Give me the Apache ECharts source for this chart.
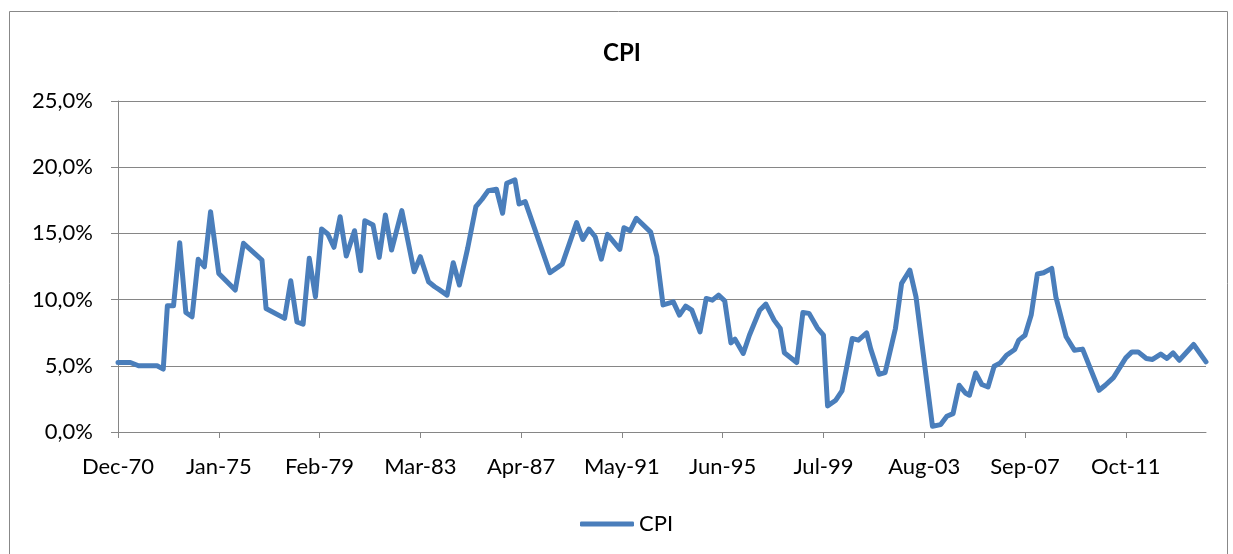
<!DOCTYPE html>
<html>
<head>
<meta charset="utf-8">
<title>CPI</title>
<script src="https://cdn.jsdelivr.net/npm/echarts@6/dist/echarts.min.js"></script>
<style>
  html, body { margin: 0; padding: 0; background: #fff; }
  #chart { width: 1233px; height: 554px; }
</style>
</head>
<body>
<div id="chart"></div>
<script>
// months counted from Dec-70 (roughly quarterly)
const months = [
  0, 6, 10, 19, 22, 24, 27, 30, 33, 36, 39, 42, 45, 49, 57, 61, 70, 72, 81, 84,
  87, 90, 93, 96, 99, 102, 105, 108, 111, 115, 118, 120, 124, 127, 130, 133, 138, 144, 147, 151,
  154, 156, 160, 163, 166, 170, 174, 177, 180, 184, 187, 189, 193, 195, 198, 210, 216, 223, 226, 229,
  232, 235, 238, 244, 246, 249, 252, 259, 262, 265, 270, 273, 276, 279, 283, 286, 289, 292, 295, 298,
  300, 304, 307, 312, 315, 319, 322, 324, 330, 333, 336, 340, 343, 345, 349, 352, 354, 357, 360, 364,
  366, 370, 373, 378, 381, 385, 388, 396, 400, 403, 406, 409, 412, 414, 417, 420, 423, 426, 429, 432,
  436, 438, 441, 444, 447, 450, 454, 456, 461, 465, 469, 477, 480, 484, 490, 493, 496, 500, 503, 507,
  510, 513, 516, 523, 529
];
// CPI, % per year
const cpi = [
  5.25, 5.25, 5.0, 5.0, 4.75, 9.53, 9.53, 14.3, 9.03, 8.7, 13.04, 12.48, 16.64, 11.98, 10.72, 14.25, 12.99, 9.33, 8.58, 11.42,
  8.32, 8.15, 13.12, 10.21, 15.33, 14.95, 13.95, 16.26, 13.29, 15.2, 12.18, 15.96, 15.63, 13.19, 16.39, 13.74, 16.72, 12.1, 13.24, 11.35,
  10.97, 10.77, 10.34, 12.78, 11.1, 13.87, 17.02, 17.58, 18.23, 18.34, 16.52, 18.79, 19.04, 17.22, 17.4, 12.03, 12.68, 15.81, 14.55, 15.33,
  14.75, 13.06, 14.93, 13.8, 15.43, 15.2, 16.14, 15.1, 13.27, 9.6, 9.83, 8.83, 9.51, 9.2, 7.56, 10.09, 9.96, 10.34, 9.91, 6.73,
  7.01, 5.93, 7.31, 9.2, 9.66, 8.45, 7.82, 5.98, 5.25, 9.03, 8.96, 7.87, 7.31, 1.97, 2.4, 3.1, 4.67, 7.06, 6.94, 7.49,
  6.26, 4.36, 4.49, 7.82, 11.23, 12.23, 10.21, 0.43, 0.56, 1.19, 1.39, 3.53, 2.95, 2.78, 4.46, 3.59, 3.4, 4.97, 5.22, 5.8,
  6.23, 6.94, 7.31, 8.83, 11.93, 12.03, 12.36, 10.21, 7.19, 6.18, 6.26, 3.15, 3.53, 4.11, 5.6, 6.05, 6.05, 5.55, 5.48, 5.88,
  5.55, 5.98, 5.42, 6.61, 5.3
];
// x tick labels, one every 49 months
const xLabels = ['Dec-70', 'Jan-75', 'Feb-79', 'Mar-83', 'Apr-87', 'May-91', 'Jun-95', 'Jul-99', 'Aug-03', 'Sep-07', 'Oct-11'];
const labelStep = 49;
const lastMonth = 529;

const font = 'Lato, "Liberation Sans", sans-serif';
const gridColor = '#868686';
const lineColor = '#4a7ebb';

const chart = echarts.init(document.getElementById('chart'), null, { renderer: 'canvas' });

const tickValues = xLabels.map((_, i) => i * labelStep);

chart.setOption({
  animation: false,
  backgroundColor: '#fff',
  textStyle: { fontFamily: font, color: '#000' },
  graphic: [{
    type: 'rect',
    shape: { x: 9.5, y: 11.5, width: 1218, height: 560 },
    style: { fill: 'none', stroke: '#888', lineWidth: 1 },
    silent: true
  }],
  title: {
    text: 'CPI',
    left: 598,
    top: 36,
    textStyle: { fontFamily: font, fontSize: 24, fontWeight: 'bold', color: '#000' }
  },
  legend: {
    top: 508,
    left: 575,
    icon: 'roundRect',
    itemWidth: 54,
    itemHeight: 5,
    itemGap: 4,
    textStyle: { fontFamily: font, fontSize: 22, color: '#000' },
    itemStyle: { color: lineColor },
    data: ['CPI']
  },
  grid: { left: 118, right: 27, top: 101, bottom: 122, containLabel: false },
  xAxis: {
    type: 'value',
    min: 0,
    max: lastMonth,
    interval: labelStep,
    splitLine: { show: false },
    axisLine: { show: true, lineStyle: { color: gridColor, width: 1 } },
    axisTick: { show: true, length: 6, customValues: tickValues, lineStyle: { color: gridColor } },
    axisLabel: {
      customValues: tickValues,
      fontFamily: font, fontSize: 22, color: '#000', margin: 24,
      formatter: v => xLabels[Math.round(v / labelStep)] || ''
    }
  },
  yAxis: {
    type: 'value',
    min: 0,
    max: 25,
    interval: 5,
    axisLine: { show: true, lineStyle: { color: gridColor, width: 1 } },
    axisTick: { show: true, length: 7, inside: false, lineStyle: { color: gridColor } },
    splitLine: { show: true, lineStyle: { color: gridColor, width: 1 } },
    axisLabel: {
      fontFamily: font, fontSize: 22, color: '#000', margin: 25,
      formatter: v => v.toFixed(1).replace('.', ',') + '%'
    }
  },
  series: [{
    name: 'CPI',
    type: 'line',
    data: months.map((m, i) => [m, cpi[i]]),
    showSymbol: false,
    symbol: 'none',
    lineStyle: { color: lineColor, width: 5, cap: 'round', join: 'round' },
    itemStyle: { color: lineColor }
  }]
});
</script>
</body>
</html>
